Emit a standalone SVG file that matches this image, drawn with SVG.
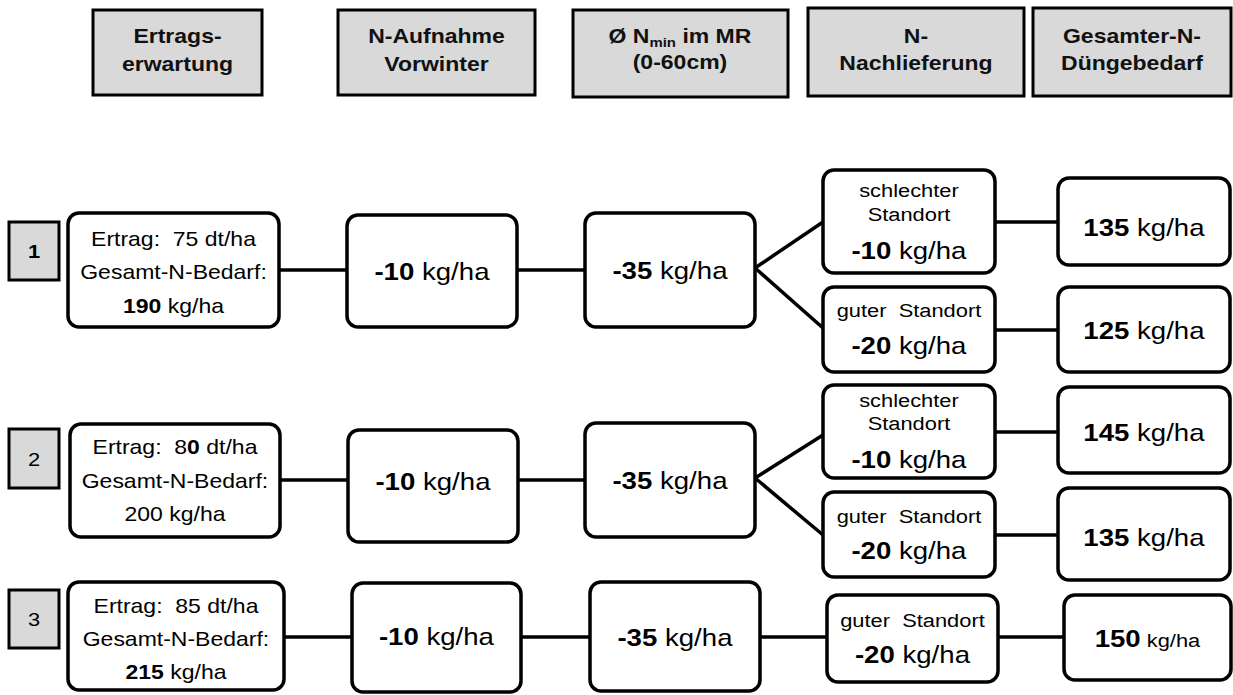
<svg xmlns="http://www.w3.org/2000/svg" width="1233" height="695" viewBox="0 0 1233 695">
<style>
text{font-family:"Liberation Sans",Arial,sans-serif;fill:#000;text-anchor:middle;white-space:pre;transform-box:fill-box;transform-origin:center;transform:scaleX(1.15)}
.hd rect{fill:#d9d9d9;stroke:#000;stroke-width:3}
.hd text{font-size:20px;font-weight:bold;fill:#111}
.lb rect{fill:#d9d9d9;stroke:#000;stroke-width:3}
.lb text{font-size:19px}
.nd rect{fill:#fff;stroke:#000;stroke-width:3.5}
.sm{font-size:20px}
.md{font-size:19px}
.lg{font-size:24px}
.b{font-weight:bold}
#conn line{stroke:#000;stroke-width:3.5}
</style>
<g id="h1" class="hd"><rect x="93" y="10" width="169" height="85"/><text x="177.5" y="43">Ertrags-</text><text x="177.5" y="71">erwartung</text></g>
<g id="h2" class="hd"><rect x="338" y="10" width="197" height="85"/><text x="436.5" y="43">N-Aufnahme</text><text x="436.5" y="71">Vorwinter</text></g>
<g id="h3" class="hd"><rect x="573" y="10" width="215" height="87"/><text x="680" y="43">Ø N<tspan font-size="13" dy="4">min</tspan><tspan dy="-4"> im MR</tspan></text><text x="680" y="69">(0-60cm)</text></g>
<g id="h4" class="hd"><rect x="808" y="8" width="216" height="88"/><text x="916" y="43">N-</text><text x="916" y="70">Nachlieferung</text></g>
<g id="h5" class="hd"><rect x="1033" y="8" width="198" height="88"/><text x="1132" y="43">Gesamter-N-</text><text x="1132" y="70">Düngebedarf</text></g>

<g id="conn">
<line x1="279" y1="270" x2="347" y2="270"/><line x1="517" y1="270" x2="585" y2="270"/>
<line x1="755" y1="268" x2="823" y2="222"/><line x1="755" y1="268" x2="823" y2="328"/>
<line x1="995" y1="222" x2="1058" y2="222"/><line x1="995" y1="330" x2="1058" y2="330"/>
<line x1="280" y1="480" x2="348" y2="480"/><line x1="518" y1="480" x2="585" y2="480"/>
<line x1="755" y1="478" x2="823" y2="435"/><line x1="755" y1="478" x2="823" y2="535"/>
<line x1="995" y1="432" x2="1058" y2="432"/><line x1="995" y1="535" x2="1058" y2="535"/>
<line x1="284" y1="637" x2="352" y2="637"/><line x1="521" y1="637" x2="590" y2="637"/>
<line x1="760" y1="637" x2="827" y2="637"/><line x1="998" y1="637" x2="1064" y2="637"/>
</g>

<g id="l1" class="lb"><rect x="9" y="222" width="50" height="58"/><text class="b" x="34" y="258">1</text></g>
<g id="l2" class="lb"><rect x="9" y="429" width="50" height="59"/><text x="34" y="466">2</text></g>
<g id="l3" class="lb"><rect x="9" y="590" width="50" height="58"/><text x="34" y="626">3</text></g>

<g id="e1" class="nd"><rect x="68" y="213" width="211" height="114" rx="11"/><text class="sm" x="173.5" y="246">Ertrag:  75 dt/ha</text><text class="sm" x="173.5" y="279">Gesamt-N-Bedarf:</text><text class="sm" x="173.5" y="313"><tspan class="b">190</tspan> kg/ha</text></g>
<g id="e2" class="nd"><rect x="70" y="424" width="210" height="113" rx="11"/><text class="sm" x="175" y="454">Ertrag:  8<tspan class="b">0</tspan> dt/ha</text><text class="sm" x="175" y="488">Gesamt-N-Bedarf:</text><text class="sm" x="175" y="521">200 kg/ha</text></g>
<g id="e3" class="nd"><rect x="68" y="582" width="216" height="108" rx="11"/><text class="sm" x="176" y="613">Ertrag:  85 dt/ha</text><text class="sm" x="176" y="646">Gesamt-N-Bedarf:</text><text class="sm" x="176" y="679"><tspan class="b">215</tspan> kg/ha</text></g>

<g id="v1" class="nd"><rect x="347" y="215" width="170" height="112" rx="11"/><text class="lg" x="432" y="280"><tspan class="b">-10</tspan> kg/ha</text></g>
<g id="v2" class="nd"><rect x="348" y="430" width="170" height="112" rx="11"/><text class="lg" x="433" y="490"><tspan class="b">-10</tspan> kg/ha</text></g>
<g id="v3" class="nd"><rect x="352" y="583" width="169" height="109" rx="11"/><text class="lg" x="436.5" y="645"><tspan class="b">-10</tspan> kg/ha</text></g>

<g id="m1" class="nd"><rect x="585" y="213" width="170" height="114" rx="11"/><text class="lg" x="670" y="279"><tspan class="b">-35</tspan> kg/ha</text></g>
<g id="m2" class="nd"><rect x="585" y="423" width="170" height="114" rx="11"/><text class="lg" x="670" y="489"><tspan class="b">-35</tspan> kg/ha</text></g>
<g id="m3" class="nd"><rect x="590" y="582" width="170" height="109" rx="11"/><text class="lg" x="675" y="646"><tspan class="b">-35</tspan> kg/ha</text></g>

<g id="s1" class="nd"><rect x="823" y="170" width="172" height="103" rx="11"/><text class="md" x="909" y="197">schlechter</text><text class="md" x="909" y="221">Standort</text><text class="lg" x="909" y="259"><tspan class="b">-10</tspan> kg/ha</text></g>
<g id="g1" class="nd"><rect x="823" y="287" width="172" height="85" rx="11"/><text class="md" x="909" y="317">guter  Standort</text><text class="lg" x="909" y="354"><tspan class="b">-20</tspan> kg/ha</text></g>
<g id="s2" class="nd"><rect x="823" y="385" width="172" height="93" rx="11"/><text class="md" x="909" y="407">schlechter</text><text class="md" x="909" y="430">Standort</text><text class="lg" x="909" y="468"><tspan class="b">-10</tspan> kg/ha</text></g>
<g id="g2" class="nd"><rect x="823" y="492" width="172" height="85" rx="11"/><text class="md" x="909" y="523">guter  Standort</text><text class="lg" x="909" y="559"><tspan class="b">-20</tspan> kg/ha</text></g>
<g id="g3" class="nd"><rect x="827" y="595" width="171" height="87" rx="11"/><text class="md" x="912.5" y="627">guter  Standort</text><text class="lg" x="912.5" y="663"><tspan class="b">-20</tspan> kg/ha</text></g>

<g id="t1" class="nd"><rect x="1058" y="178" width="172" height="87" rx="11"/><text class="lg" x="1144" y="236"><tspan class="b">135</tspan> kg/ha</text></g>
<g id="t2" class="nd"><rect x="1058" y="287" width="172" height="85" rx="11"/><text class="lg" x="1144" y="339"><tspan class="b">125</tspan> kg/ha</text></g>
<g id="t3" class="nd"><rect x="1058" y="387" width="172" height="86" rx="11"/><text class="lg" x="1144" y="441"><tspan class="b">145</tspan> kg/ha</text></g>
<g id="t4" class="nd"><rect x="1058" y="488" width="172" height="92" rx="11"/><text class="lg" x="1144" y="546"><tspan class="b">135</tspan> kg/ha</text></g>
<g id="t5" class="nd"><rect x="1064" y="595" width="167" height="85" rx="11"/><text x="1147.5" y="647"><tspan class="lg b">150</tspan><tspan class="md"> kg/ha</tspan></text></g>
</svg>
